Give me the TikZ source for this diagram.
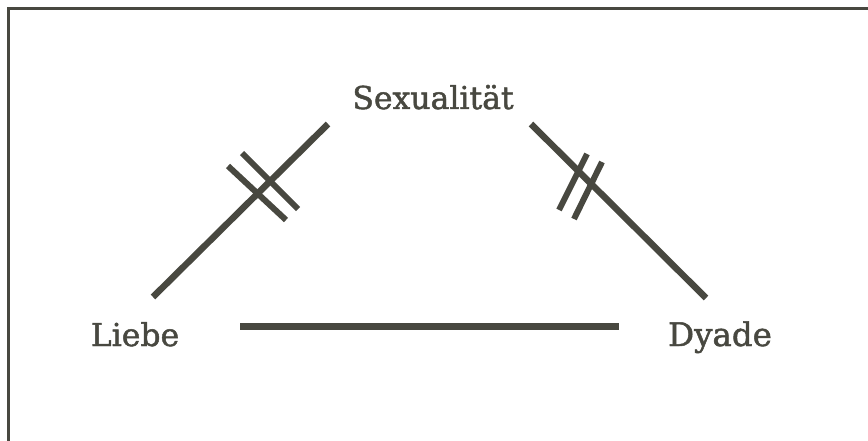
\documentclass[tikz,border=0pt]{standalone}
\usepackage{fontspec}
\setmainfont{DejaVu Serif}
\newfontfamily\lblfont[FakeBold=1.5]{DejaVu Serif}
\definecolor{ink}{RGB}{72,72,64}
\begin{document}
\begin{tikzpicture}[x=1pt,y=-1pt,
  lbl/.style={text=ink,inner sep=0pt,anchor=base},
  edge/.style={draw=ink,line width=6.5pt},
  tick/.style={draw=ink,line width=6pt},
  frame/.style={draw=ink,line width=3pt}]
\useasboundingbox (0,0) rectangle (868,441);
\fill[white] (0,0) rectangle (868,441);
% frame (top and left edges)
\coordinate (fl) at (8,441);
\coordinate (fc) at (8,9);
\coordinate (fr) at (868,9);
\draw[frame] (fl) -- (fc) -- (fr);
% labels
\node[lbl,font=\lblfont\fontsize{31.5}{33}\selectfont] (sex) at (433,109) {Sexualität};
\node[lbl,font=\lblfont\fontsize{31.5}{33}\selectfont] (liebe) at (135,346) {Liebe};
\node[lbl,font=\lblfont\fontsize{32.5}{34}\selectfont] (dyade) at (720,346) {Dyade};
% edges
\coordinate (l1) at (153,297);
\coordinate (l2) at (328,124);
\coordinate (r1) at (531,124);
\coordinate (r2) at (706,298);
\coordinate (b1) at (240,326.5);
\coordinate (b2) at (619,326.5);
\draw[edge] (l1) -- (l2);
\draw[edge] (r1) -- (r2);
\draw[edge,line width=7.5pt] (b1) -- (b2);
% ticks left
\coordinate (lt1a) at (228,166);
\coordinate (lt1b) at (286,220);
\coordinate (lt2a) at (242,153);
\coordinate (lt2b) at (298,209);
\draw[tick] (lt1a) -- (lt1b);
\draw[tick] (lt2a) -- (lt2b);
% ticks right
\coordinate (rt1a) at (587,154);
\coordinate (rt1b) at (559,210);
\coordinate (rt2a) at (602,162);
\coordinate (rt2b) at (574,219);
\draw[tick] (rt1a) -- (rt1b);
\draw[tick] (rt2a) -- (rt2b);
\end{tikzpicture}
\end{document}
